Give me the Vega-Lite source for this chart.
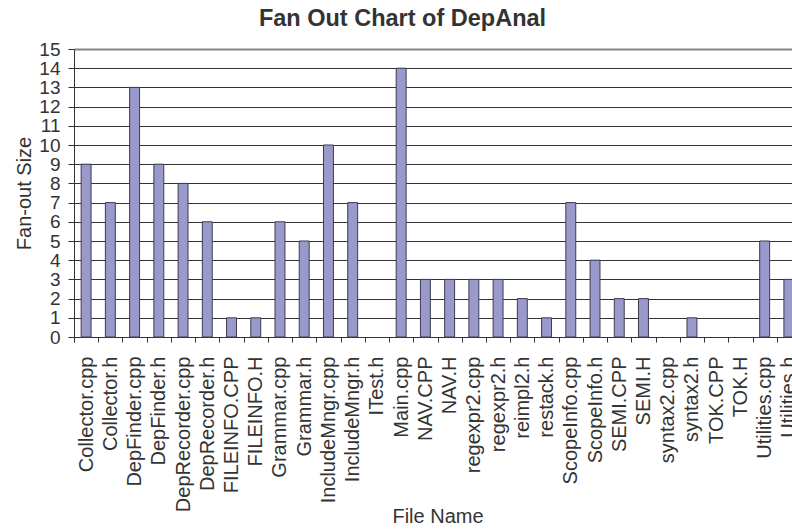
{
  "$schema": "https://vega.github.io/schema/vega-lite/v6.json",
  "width": 727,
  "height": 288,
  "autosize": "none",
  "padding": {"left": 74, "top": 49, "right": 0, "bottom": 194},
  "background": "white",
  "title": {
    "text": "Fan Out Chart of DepAnal",
    "font": "Liberation Sans",
    "fontSize": 23.5,
    "fontWeight": "bold",
    "color": "#333333",
    "anchor": "middle",
    "dx": -35,
    "offset": 10
  },
  "config": {
    "view": {"stroke": null},
    "font": "Liberation Sans"
  },
  "data": {
    "values": [
      {"file": "Collector.cpp", "fanout": 9},
      {"file": "Collector.h", "fanout": 7},
      {"file": "DepFinder.cpp", "fanout": 13},
      {"file": "DepFinder.h", "fanout": 9},
      {"file": "DepRecorder.cpp", "fanout": 8},
      {"file": "DepRecorder.h", "fanout": 6},
      {"file": "FILEINFO.CPP", "fanout": 1},
      {"file": "FILEINFO.H", "fanout": 1},
      {"file": "Grammar.cpp", "fanout": 6},
      {"file": "Grammar.h", "fanout": 5},
      {"file": "IncludeMngr.cpp", "fanout": 10},
      {"file": "IncludeMngr.h", "fanout": 7},
      {"file": "ITest.h", "fanout": 0},
      {"file": "Main.cpp", "fanout": 14},
      {"file": "NAV.CPP", "fanout": 3},
      {"file": "NAV.H", "fanout": 3},
      {"file": "regexpr2.cpp", "fanout": 3},
      {"file": "regexpr2.h", "fanout": 3},
      {"file": "reimpl2.h", "fanout": 2},
      {"file": "restack.h", "fanout": 1},
      {"file": "ScopeInfo.cpp", "fanout": 7},
      {"file": "ScopeInfo.h", "fanout": 4},
      {"file": "SEMI.CPP", "fanout": 2},
      {"file": "SEMI.H", "fanout": 2},
      {"file": "syntax2.cpp", "fanout": 0},
      {"file": "syntax2.h", "fanout": 1},
      {"file": "TOK.CPP", "fanout": 0},
      {"file": "TOK.H", "fanout": 0},
      {"file": "Utilities.cpp", "fanout": 5},
      {"file": "Utilities.h", "fanout": 3}
    ]
  },
  "mark": {
    "type": "bar",
    "width": {"band": 0.41},
    "fill": "#9999CC",
    "stroke": "#3c3c50",
    "strokeWidth": 1
  },
  "encoding": {
    "x": {
      "field": "file",
      "type": "nominal",
      "sort": null,
      "scale": {"paddingInner": 0, "paddingOuter": 0},
      "axis": {
        "title": "File Name",
        "titleFont": "Liberation Sans",
        "titleFontSize": 20,
        "titleFontWeight": "normal",
        "titleColor": "#333333",
        "titlePadding": -5,
        "labelAngle": -90,
        "labelAlign": "right",
        "labelBaseline": "middle",
        "labelFont": "Liberation Sans",
        "labelFontSize": 20,
        "labelColor": "#333333",
        "labelPadding": 14,
        "labelOverlap": false,
        "labelLimit": 300,
        "tickBand": "extent",
        "tickSize": 5,
        "tickColor": "#333333",
        "domainColor": "#333333",
        "grid": false
      }
    },
    "y": {
      "field": "fanout",
      "type": "quantitative",
      "scale": {"domain": [0, 15], "nice": false},
      "axis": {
        "title": "Fan-out Size",
        "titleFont": "Liberation Sans",
        "titleFontSize": 20,
        "titleFontWeight": "normal",
        "titleColor": "#333333",
        "titlePadding": 4,
        "values": [0, 1, 2, 3, 4, 5, 6, 7, 8, 9, 10, 11, 12, 13, 14, 15],
        "labelOverlap": false,
        "labelFlush": false,
        "labelFont": "Liberation Sans",
        "labelFontSize": 19,
        "labelColor": "#333333",
        "labelPadding": 8,
        "tickSize": 6,
        "tickColor": "#333333",
        "domainColor": "#333333",
        "grid": true,
        "gridColor": {"condition": {"test": "datum.value === 15", "value": "#8c8484"}, "value": "#333333"},
        "gridWidth": {"condition": {"test": "datum.value === 15", "value": 2}, "value": 1},
        "gridOpacity": 1
      }
    },
    "strokeOpacity": {"condition": {"test": "datum.fanout === 0", "value": 0}, "value": 1}
  }
}
